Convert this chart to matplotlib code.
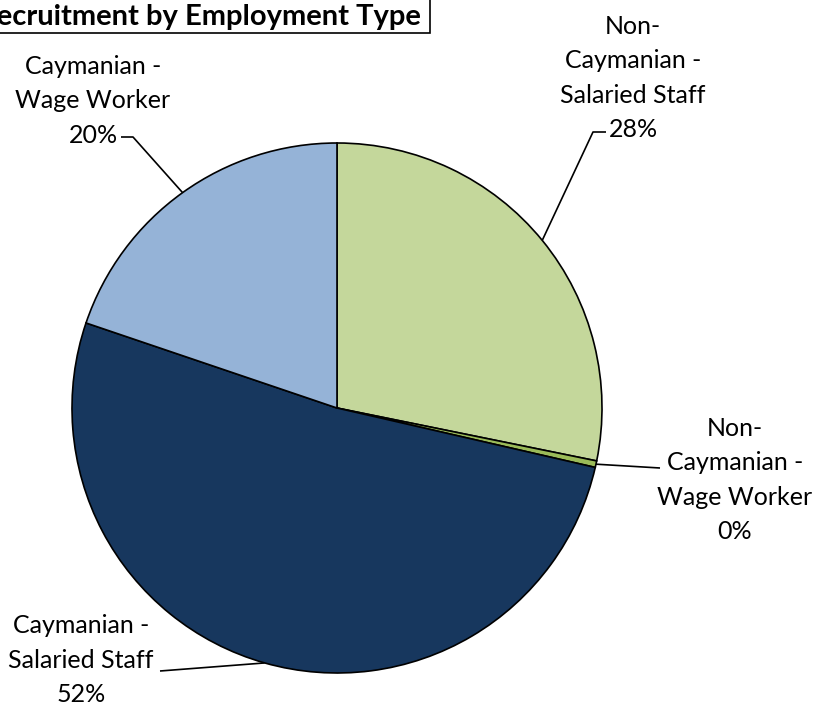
import numpy as np
import matplotlib.pyplot as plt
from matplotlib.patches import Rectangle

plt.rcParams['font.family'] = ['Lato', 'DejaVu Sans']

# share of recruitment by employment type (percent)
categories = ['Non-\nCaymanian -\nSalaried Staff',
              'Non-\nCaymanian -\nWage Worker',
              'Caymanian -\nSalaried Staff',
              'Caymanian -\nWage Worker']
shares = [28.2, 0.4, 51.6, 19.8]
colors = ['#C4D79B', '#9BBB59', '#17375E', '#95B3D7']

W, H = 815, 705
fig = plt.figure(figsize=(W / 100, H / 100), dpi=100)
ax = fig.add_axes([0, 0, 1, 1])

cx, cy, r = 337, H - 408, 265
wedges, _ = ax.pie(shares, colors=colors, startangle=90, counterclock=False,
                   center=(cx, cy), radius=r, frame=True,
                   wedgeprops=dict(edgecolor='black', linewidth=1.2))
ax.set_xlim(0, W)
ax.set_ylim(0, H)
ax.set_aspect('equal')
ax.set_axis_off()

# label placement: text centre and the leader-line bend (pixel coords, y down)
label_pos = [(633, 78), (735, 480), (81, 660), (93, 101)]
bends = [[(606, 132), (593, 132)], [(660, 468)], [(160, 671)], [(121, 137), (133, 137)]]

for w, name, v, (tx, ty), pts in zip(wedges, categories, shares, label_pos, bends):
    mid = np.deg2rad((w.theta1 + w.theta2) / 2)
    ex, ey = cx + r * np.cos(mid), cy + r * np.sin(mid)
    xs = [p[0] for p in pts] + [ex]
    ys = [H - p[1] for p in pts] + [ey]
    ax.plot(xs, ys, color='black', lw=1.2, solid_capstyle='butt')
    ax.text(tx, H - ty, f'{name}\n{v:.0f}%', ha='center', va='center',
            fontsize=18, linespacing=1.6)

# boxed title, running off the left edge
ax.add_patch(Rectangle((-10, H - 33), 440, 50, facecolor='white',
                       edgecolor='black', lw=1.2))
ax.text(421, H - 17, 'Recruitment by Employment Type', ha='right', va='center',
        fontsize=21, fontweight='bold')

fig.savefig('out.png', dpi=100)
